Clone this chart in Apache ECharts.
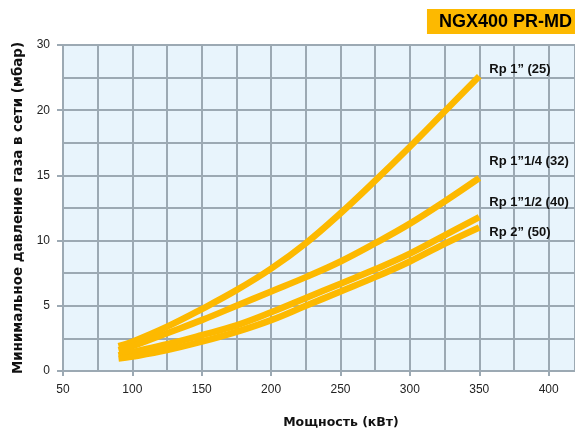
<!DOCTYPE html>
<html><head><meta charset="utf-8">
<script src="https://cdn.jsdelivr.net/npm/echarts@6/dist/echarts.min.js"></script>
<style>html,body{margin:0;padding:0;background:#fff}#c{width:575px;height:432px}</style>
</head><body><div id="c"></div>
<script>
const powerKW = [90, 100, 125, 150, 175, 200, 225, 250, 275, 300, 325, 350];
const rp25 = [1.9, 2.25, 3.4, 4.75, 6.2, 7.85, 9.8, 12.1, 14.6, 17.2, 19.9, 22.6];
const rp32 = [1.6, 1.9, 2.9, 3.9, 5.0, 6.1, 7.2, 8.4, 9.8, 11.3, 13.0, 14.8];
const rp40 = [1.2, 1.45, 2.05, 2.75, 3.5, 4.5, 5.6, 6.7, 7.8, 9.0, 10.4, 11.8];
const rp50 = [0.95, 1.1, 1.6, 2.25, 3.0, 3.9, 5.0, 6.1, 7.2, 8.4, 9.75, 11.0];
const seriesNames = ['Rp 1\u201d (25)', 'Rp 1\u201d1/4 (32)', 'Rp 1\u201d1/2 (40)', 'Rp 2\u201d (50)'];
const yTickLabels = ['0', '5', '10', '15', '20', '30'];
const xTickLabels = ['50', '100', '150', '200', '250', '300', '350', '400'];
const chartTitle = 'NGX400 PR-MD';
const xTitle = 'Мощность (кВт)';
const yTitle = 'Минимальное давление газа в сети (мбар)';

const allValues = [rp25, rp32, rp40, rp50];
const labelOffsets = [[5, -7], [5, -17], [5, -15], [5, 5]];
const COLOR = '#FDB900';
const GRID = '#9CA9B3';
const X_MIN = 50, X_MAX = 419;

function buildSeries(i) {
  const vals = allValues[i];
  return {
    name: seriesNames[i], type: 'line',
    data: powerKW.map((x, k) => [x, vals[k]]),
    smooth: 0.4, showSymbol: false, symbol: 'none',
    lineStyle: { color: COLOR, width: 6.5, cap: 'butt' },
    itemStyle: { color: COLOR },
    endLabel: {
      show: true, formatter: seriesNames[i], distance: 5, offset: labelOffsets[i],
      color: '#111', fontFamily: 'Liberation Sans', fontWeight: 'bold', fontSize: 13
    },
    z: 3 + i
  };
}

const chart = echarts.init(document.getElementById('c'), null, { renderer: 'canvas' });
chart.setOption({
  animation: false,
  backgroundColor: '#fff',
  title: {
    text: chartTitle, right: 0, top: 9,
    backgroundColor: COLOR, padding: [4, 3, 3, 12],
    textStyle: { fontFamily: 'Liberation Sans', fontWeight: 'bold', fontSize: 18, color: '#000', lineHeight: 18 }
  },
  grid: { left: 63, top: 45, bottom: 61, right: 0, outerBoundsMode: 'none', containLabel: false,
          show: true, backgroundColor: '#E8F4FC', borderWidth: 0 },
  xAxis: [{
    type: 'value', min: X_MIN, max: X_MAX, interval: 50,
    name: xTitle, nameLocation: 'middle', nameGap: 45,
    nameTextStyle: { fontFamily: 'DejaVu Sans', fontWeight: 'bold', fontSize: 12.5, color: '#111', padding: [0, 0, 0, 44] },
    axisLine: { show: true, lineStyle: { color: GRID, width: 2 } },
    axisTick: { show: true, length: 5, lineStyle: { color: GRID, width: 2 } },
    axisLabel: {
      margin: 13, fontFamily: 'Liberation Sans', fontSize: 12, color: '#222', showMaxLabel: false,
      formatter: v => { const i = (v - 50) / 50; return Number.isInteger(i) && xTickLabels[i] ? xTickLabels[i] : ''; }
    },
    splitLine: { show: false },
    z: 2
  }, {
    type: 'value', min: X_MIN, max: X_MAX, interval: 25, position: 'bottom',
    axisLine: { show: false }, axisTick: { show: false }, axisLabel: { show: false },
    splitLine: { show: true, lineStyle: { color: GRID, width: 2 } }
  }],
  yAxis: {
    type: 'value', min: 0, max: 25, interval: 5,
    name: yTitle, nameLocation: 'middle', nameGap: 38, nameRotate: 90,
    nameTextStyle: { fontFamily: 'DejaVu Sans', fontWeight: 'bold', fontSize: 13.4, color: '#111' },
    axisLine: { show: true, lineStyle: { color: GRID, width: 2 } },
    axisTick: { show: true, length: 6, lineStyle: { color: GRID, width: 2 } },
    axisLabel: {
      margin: 13, fontFamily: 'Liberation Sans', fontSize: 12, color: '#222',
      formatter: v => yTickLabels[Math.round(v / 5)]
    },
    splitLine: { show: true, lineStyle: { color: GRID, width: 2 } },
    minorTick: { show: false, splitNumber: 2 },
    minorSplitLine: { show: true, lineStyle: { color: GRID, width: 2 } }
  },
  series: [0, 1, 2, 3].map(buildSeries)
});
</script>
</body></html>
